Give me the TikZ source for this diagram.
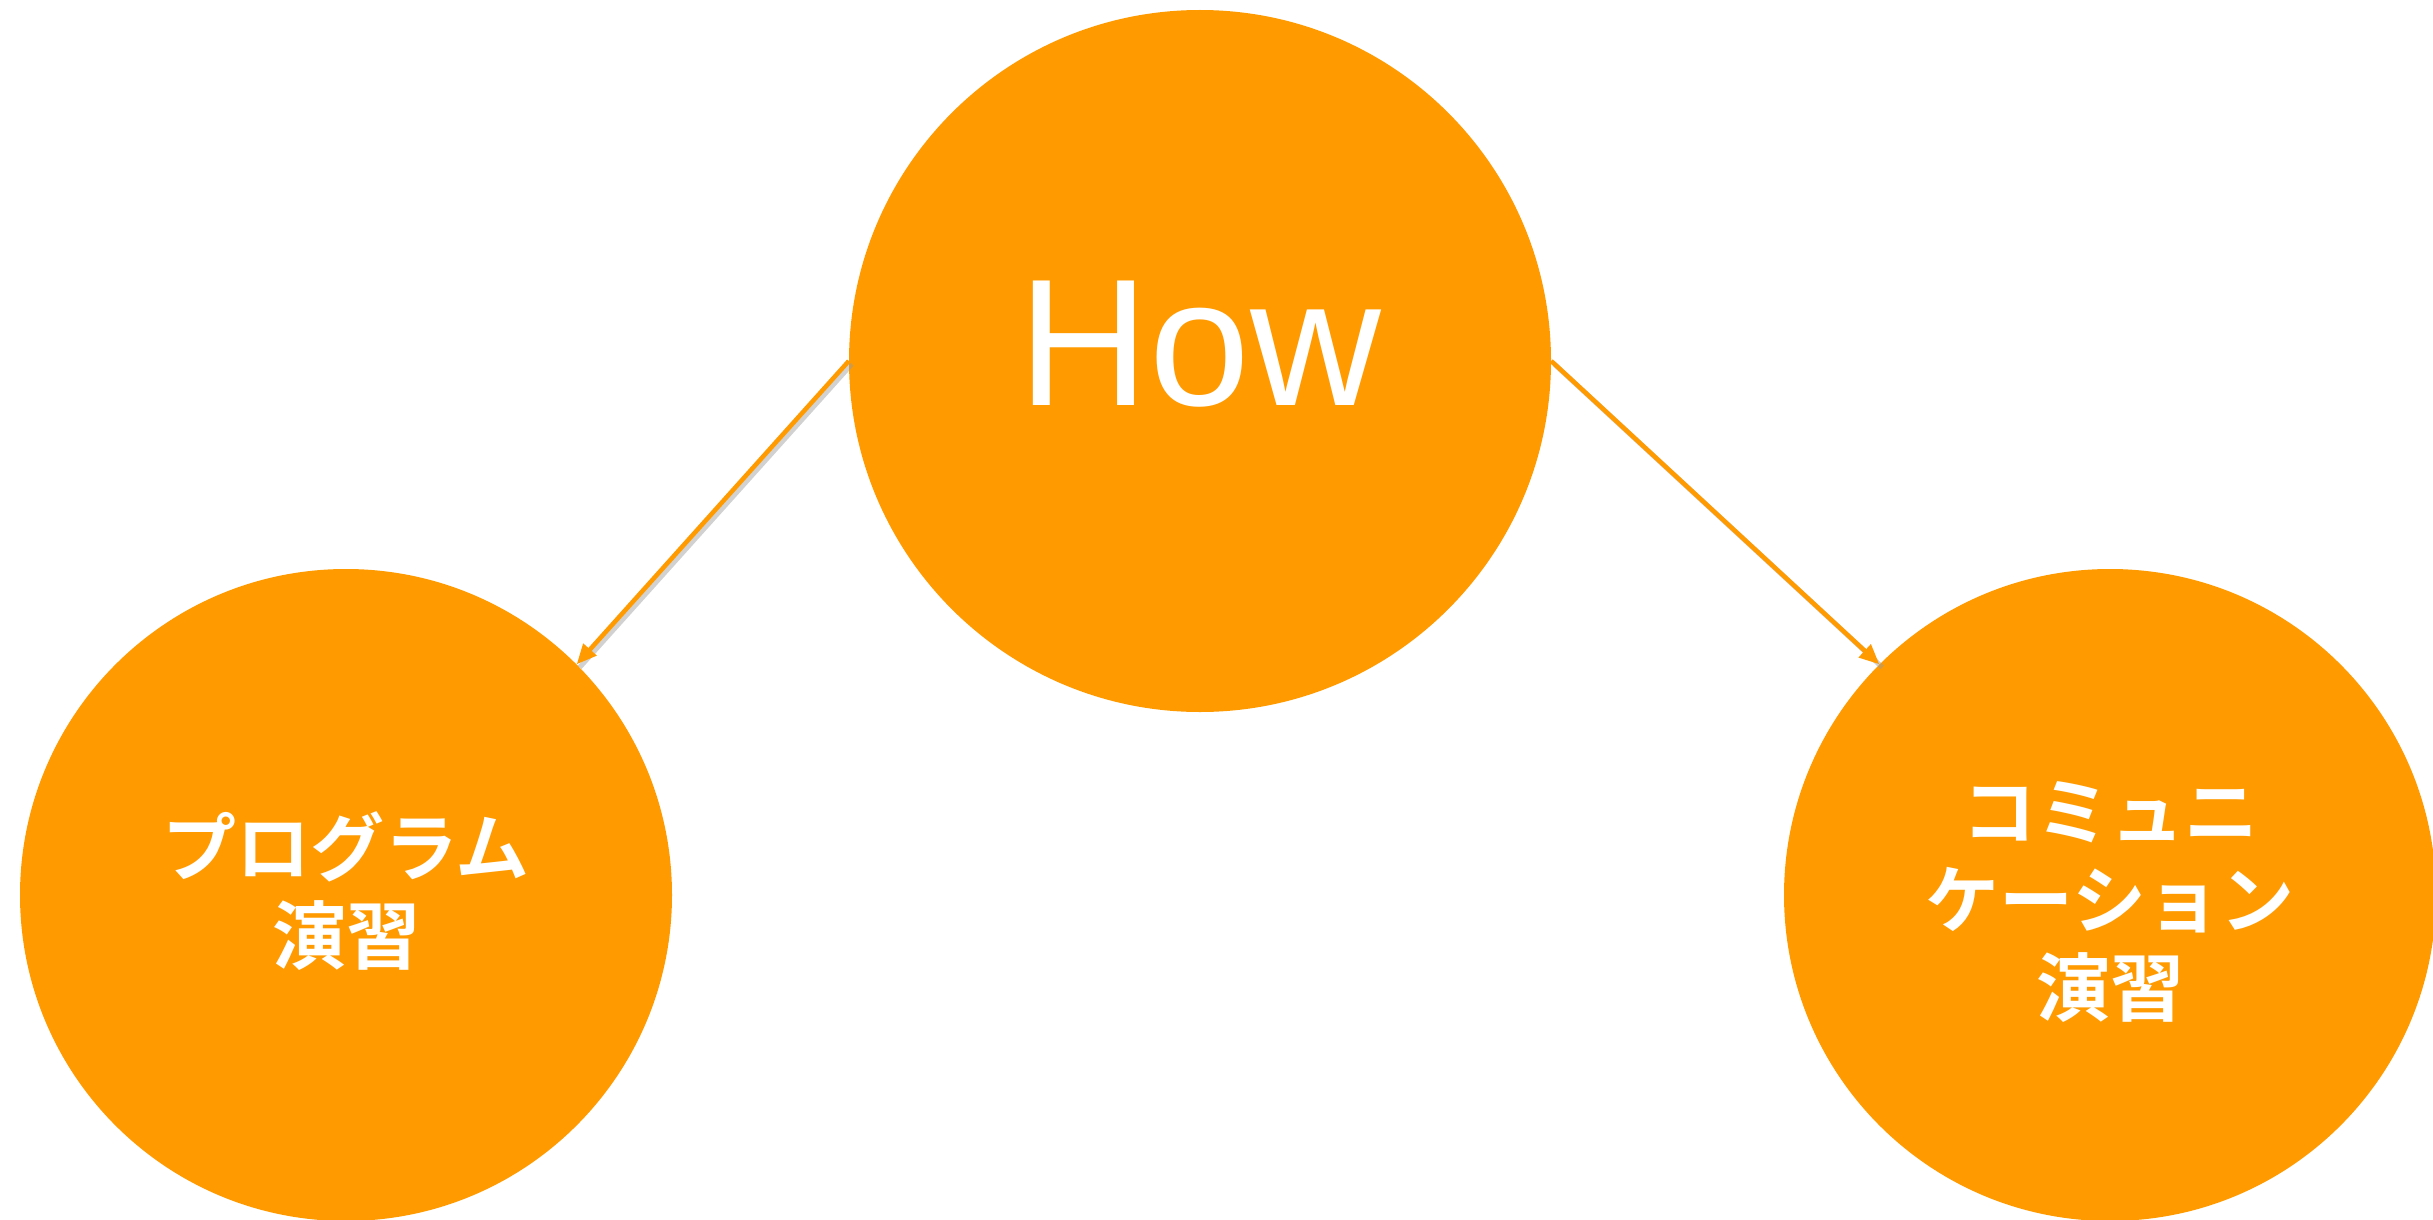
\documentclass[tikz,border=0pt]{standalone}
\usepackage{fontspec}
\setmainfont{Liberation Sans}
\newfontfamily\jpfont{Noto Sans CJK JP Bold}
\usetikzlibrary{arrows.meta}
\definecolor{orng}{RGB}{255,155,0}
\begin{document}
\begin{tikzpicture}[x=1pt,y=-1pt,
  bubble/.style={circle, fill=orng, inner sep=0pt, text=white},
  jptext/.style={align=center, text=white, inner sep=0pt, font=\jpfont\fontsize{74}{88}\selectfont},
  link/.style={draw=orng, line width=4.5pt, -{Triangle[length=20pt,width=17pt]}},
  linkshadow/.style={draw=black!40, opacity=0.45, line width=5pt}]
\useasboundingbox (0,0) rectangle (2433,1220);
\node[bubble, minimum size=702pt, font=\fontsize{181}{181}\selectfont,
      text height=130pt, text depth=42pt] (how) at (1200,361) {How};
\node[bubble, minimum size=652pt] (prog) at (346,895) {};
\node[bubble, minimum size=652pt] (comm) at (2110,895) {};
\node[jptext] (progtext) at ([yshift=4pt]prog.center) {プログラム\\演習};
\node[jptext] (commtext) at ([yshift=-7pt]comm.center) {コミュニ\\ケーション\\演習};
\draw[linkshadow] ([shift={(3,3)}]how.west) -- ([shift={(3,3)}]prog.north east);
\draw[linkshadow] ([shift={(3,3)}]how.east) -- ([shift={(3,3)}]comm.north west);
\draw[link] (how.west) -- (prog.north east);
\draw[link] (how.east) -- (comm.north west);
\end{tikzpicture}
\end{document}
